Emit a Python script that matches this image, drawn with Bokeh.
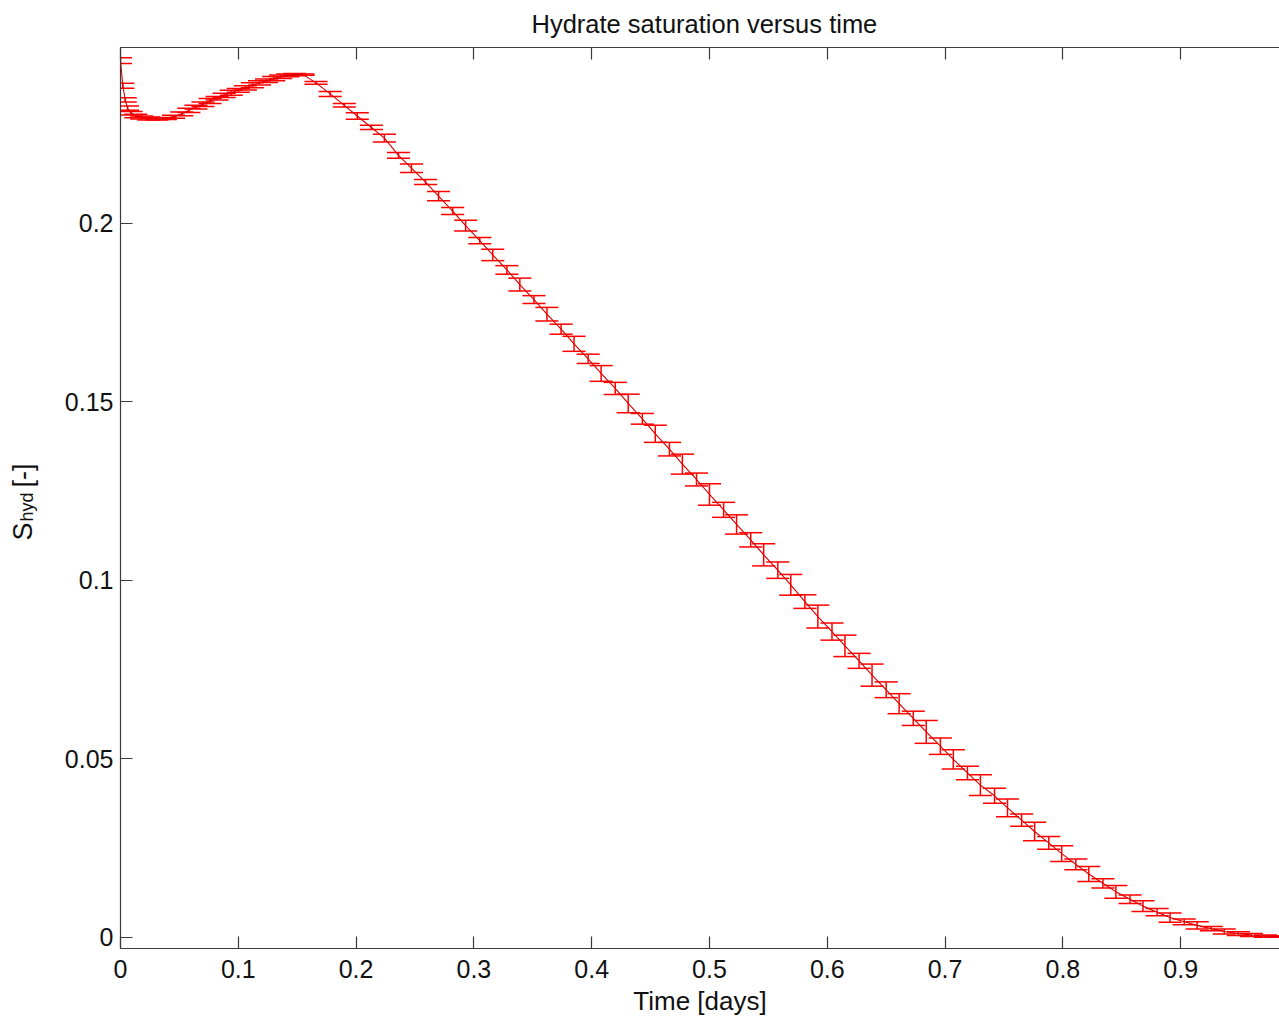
from bokeh.plotting import figure
from bokeh.models import Range1d, LinearAxis, Label, ColumnDataSource, FixedTicker
from bokeh.layouts import row
from bokeh.embed import file_html
from bokeh.resources import INLINE
import math

# ---------------- data ----------------
time_days = [
    0.000, 0.002, 0.004, 0.006, 0.009, 0.013, 0.018, 0.024, 0.031, 0.038,
    0.045, 0.052, 0.058, 0.064, 0.070, 0.076, 0.082, 0.088, 0.094, 0.100,
    0.106, 0.112, 0.118, 0.124, 0.130, 0.136, 0.142, 0.148, 0.155,
    0.166, 0.178, 0.190, 0.201, 0.213, 0.224, 0.236, 0.247, 0.259, 0.270,
    0.282, 0.293, 0.305, 0.316, 0.328, 0.339, 0.351, 0.362, 0.374, 0.385,
    0.397, 0.408, 0.420, 0.431, 0.443, 0.454, 0.466, 0.477, 0.489, 0.500,
    0.512, 0.523, 0.535, 0.546, 0.558, 0.569, 0.581, 0.592, 0.604, 0.615,
    0.627, 0.638, 0.650, 0.661, 0.673, 0.684, 0.696, 0.707, 0.719, 0.730,
    0.742, 0.753, 0.765, 0.776, 0.788, 0.799, 0.811, 0.822, 0.834, 0.845,
    0.857, 0.868, 0.880, 0.891, 0.903, 0.914, 0.926, 0.937, 0.949, 0.960,
    0.972, 0.983,
]
s_hyd = [
    0.2455, 0.2385, 0.2345, 0.2322, 0.2308, 0.2300, 0.2296, 0.2293, 0.2292, 0.2293,
    0.2298, 0.2306, 0.2316, 0.2325, 0.2333, 0.2342, 0.2350, 0.2358, 0.2365, 0.2372,
    0.2379, 0.2386, 0.2393, 0.2399, 0.2405, 0.2410, 0.2414, 0.2416, 0.2416,
    0.2393, 0.2362, 0.2330, 0.2300, 0.2268, 0.2238, 0.2190, 0.2154, 0.2115, 0.2076,
    0.2034, 0.1993, 0.1951, 0.1911, 0.1869, 0.1828, 0.1786, 0.1745, 0.1703, 0.1662,
    0.1620, 0.1579, 0.1537, 0.1495, 0.1452, 0.1410, 0.1367, 0.1325, 0.1282, 0.1240,
    0.1197, 0.1156, 0.1113, 0.1071, 0.1028, 0.0987, 0.0940, 0.0898, 0.0856, 0.0816,
    0.0774, 0.0734, 0.0693, 0.0654, 0.0613, 0.0575, 0.0535, 0.0498, 0.0460, 0.0426,
    0.0396, 0.0362, 0.0328, 0.0296, 0.0264, 0.0234, 0.0204, 0.0177, 0.0151, 0.0127,
    0.0106, 0.0087, 0.0070, 0.0055, 0.0043, 0.0033, 0.0024, 0.0016, 0.0010, 0.0006,
    0.0003, 0.0002,
]
s_err = [
    0.0008, 0.0007, 0.0006, 0.0006, 0.0005, 0.0005, 0.0004, 0.0004, 0.0003, 0.0003,
    0.0004, 0.0005, 0.0006, 0.0005, 0.0006, 0.0007, 0.0005, 0.0006, 0.0007, 0.0005,
    0.0006, 0.0007, 0.0006, 0.0005, 0.0006, 0.0005, 0.0004, 0.0003, 0.0002,
    0.0004, 0.0007, 0.0005, 0.0009, 0.0006, 0.0011, 0.0008, 0.0012, 0.0007, 0.0013,
    0.0010, 0.0015, 0.0009, 0.0016, 0.0012, 0.0018, 0.0011, 0.0019, 0.0014, 0.0021,
    0.0013, 0.0022, 0.0017, 0.0026, 0.0015, 0.0024, 0.0019, 0.0028, 0.0018, 0.0030,
    0.0021, 0.0027, 0.0020, 0.0031, 0.0023, 0.0029, 0.0019, 0.0032, 0.0024, 0.0030,
    0.0021, 0.0031, 0.0022, 0.0028, 0.0020, 0.0032, 0.0023, 0.0027, 0.0019, 0.0029,
    0.0021, 0.0025, 0.0017, 0.0026, 0.0018, 0.0022, 0.0015, 0.0021, 0.0013, 0.0018,
    0.0012, 0.0015, 0.0010, 0.0013, 0.0008, 0.0010, 0.0006, 0.0007, 0.0005, 0.0004,
    0.0003, 0.0002,
]
x_ticks = [0.0, 0.1, 0.2, 0.3, 0.4, 0.5, 0.6, 0.7, 0.8, 0.9]
x_tick_labels = ["0", "0.1", "0.2", "0.3", "0.4", "0.5", "0.6", "0.7", "0.8", "0.9"]
y_ticks = [0.0, 0.05, 0.1, 0.15, 0.2]
y_tick_labels = ["0", "0.05", "0.1", "0.15", "0.2"]

title_text = "Hydrate saturation versus time"
x_label = "Time [days]"
y_label_main, y_label_sub, y_label_unit = "S", "hyd", "[-]"

assert len(time_days) == len(s_hyd) == len(s_err)

# ---------------- styling ----------------
FONT = "Liberation Sans"
RED = "#ff0000"
AX = "#3a3a3a"
TXT = "#111111"
CAP_HALF = 0.0098  # errorbar tee half width, in days (2% of x span)
W, H = 1279, 1019
STRIP = 60         # width of the strip that holds the y-axis title

src = ColumnDataSource(dict(
    t=time_days,
    s=s_hyd,
    lo=[v - e for v, e in zip(s_hyd, s_err)],
    hi=[v + e for v, e in zip(s_hyd, s_err)],
    cl=[t - CAP_HALF for t in time_days],
    cr=[t + CAP_HALF for t in time_days],
))

p = figure(width=W - STRIP, height=H, output_backend="svg", toolbar_location=None,
           x_range=Range1d(0, 0.9839), y_range=Range1d(-0.00317, 0.2492),
           min_border_left=120 - STRIP, min_border_right=0, min_border_top=47,
           min_border_bottom=71)
p.outline_line_color = None
p.xgrid.visible = False
p.ygrid.visible = False
p.background_fill_color = "white"
p.border_fill_color = "white"

# errorbars
p.segment(x0="t", y0="lo", x1="t", y1="hi", source=src, line_color=RED, line_width=1.5)
p.segment(x0="cl", y0="lo", x1="cr", y1="lo", source=src, line_color=RED, line_width=1.5)
p.segment(x0="cl", y0="hi", x1="cr", y1="hi", source=src, line_color=RED, line_width=1.5)
# line
p.line(x="t", y="s", source=src, line_color="#d80000", line_width=1.1)

def style_axis(ax, ticks, labels):
    ax.ticker = FixedTicker(ticks=ticks)
    ax.major_label_overrides = {t: l for t, l in zip(ticks, labels)}
    ax.major_tick_in = 12
    ax.major_tick_out = 0
    ax.minor_tick_in = 0
    ax.minor_tick_out = 0
    ax.axis_line_color = AX
    ax.major_tick_line_color = AX
    ax.axis_line_width = 1.2
    ax.major_tick_line_width = 1.2
    ax.major_label_text_font = FONT
    ax.major_label_text_font_size = "25px"
    ax.major_label_text_color = TXT

style_axis(p.xaxis[0], x_ticks, x_tick_labels)
style_axis(p.yaxis[0], y_ticks, y_tick_labels)
p.xaxis[0].major_label_standoff = 11
p.yaxis[0].major_label_standoff = 7
p.xaxis[0].axis_label = x_label
p.xaxis[0].axis_label_text_font = FONT
p.xaxis[0].axis_label_text_font_size = "26px"
p.xaxis[0].axis_label_text_font_style = "normal"
p.xaxis[0].axis_label_text_color = TXT
p.xaxis[0].axis_label_standoff = 5

top = LinearAxis()
style_axis(top, x_ticks, ["" for _ in x_ticks])
top.major_label_standoff = 0
top.major_label_text_font_size = "1px"
p.add_layout(top, "above")

p.title.text = title_text
p.title.text_font = FONT
p.title.text_font_size = "25.5px"
p.title.text_font_style = "normal"
p.title.text_color = TXT
p.title.align = "left"
p.title.offset = 411
p.title.vertical_align = "top"
p.title.standoff = 16

# strip on the left carrying the rotated y-axis title (S with subscript hyd)
lf = figure(width=STRIP, height=H, output_backend="svg", toolbar_location=None,
            x_range=Range1d(0, STRIP), y_range=Range1d(0, H),
            min_border_left=0, min_border_right=0, min_border_top=0, min_border_bottom=0)
lf.axis.visible = False
lf.xgrid.visible = False
lf.ygrid.visible = False
lf.outline_line_color = None
lf.border_fill_color = "white"

def lab(text, x, y, size):
    lf.add_layout(Label(x=x, y=y, x_units="screen", y_units="screen", text=text,
                        angle=math.pi / 2, text_align="left", text_baseline="alphabetic",
                        text_font=FONT, text_font_size=size, text_color=TXT))

# (frames of a row are aligned, so y is measured from the main frame's bottom at 948)
lab(y_label_main, 22, 408, "27px")
lab(y_label_sub, 26, 427, "18px")
lab(y_label_unit, 22, 461, "27px")

open("out.html", "w").write(file_html(row(lf, p), INLINE))
